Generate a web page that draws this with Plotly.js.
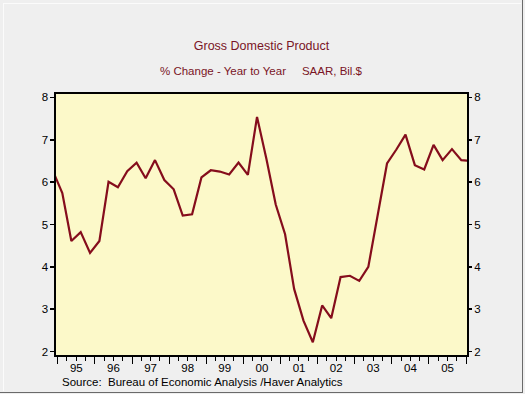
<!DOCTYPE html>
<html>
<head>
<meta charset="utf-8">
<script src="https://cdn.plot.ly/plotly-3.0.1.min.js"></script>
<style>
  html, body { margin: 0; padding: 0; background: #efefef; }
  #wrap { position: relative; width: 525px; height: 394px; }
  #chart { width: 525px; height: 394px; }
  #frame { position: absolute; left: 0; top: 0; width: 523px; height: 393px; box-sizing: border-box;
           border-right: 1px solid #6a6a6a; border-bottom: 1px solid #6a6a6a; pointer-events: none; }
  #frame2 { position: absolute; left: 3px; top: 3px; width: 518px; height: 388px; box-sizing: border-box;
           border-left: 1px solid #fbfbfb; border-top: 1px solid #fbfbfb; pointer-events: none; }
</style>
</head>
<body>
<div id="wrap">
  <div id="chart"></div>
  <div id="frame"></div>
  <div id="frame2"></div>
</div>
<script>
// Quarterly observations (year, quarter)
const quarters = [
  "1994Q4",
  "1995Q1","1995Q2","1995Q3","1995Q4",
  "1996Q1","1996Q2","1996Q3","1996Q4",
  "1997Q1","1997Q2","1997Q3","1997Q4",
  "1998Q1","1998Q2","1998Q3","1998Q4",
  "1999Q1","1999Q2","1999Q3","1999Q4",
  "2000Q1","2000Q2","2000Q3","2000Q4",
  "2001Q1","2001Q2","2001Q3","2001Q4",
  "2002Q1","2002Q2","2002Q3","2002Q4",
  "2003Q1","2003Q2","2003Q3","2003Q4",
  "2004Q1","2004Q2","2004Q3","2004Q4",
  "2005Q1","2005Q2","2005Q3","2005Q4",
  "2006Q1"
];
// GDP % change, year to year (SAAR, Bil.$)
const gdpChange = [
  6.26,
  5.74, 4.61, 4.82, 4.33,
  4.61, 6.01, 5.88, 6.26,
  6.46, 6.09, 6.52, 6.05,
  5.83, 5.21, 5.24, 6.11,
  6.28, 6.25, 6.18, 6.46,
  6.17, 7.54, 6.55, 5.47,
  4.77, 3.48, 2.73, 2.22,
  3.09, 2.79, 3.76, 3.79,
  3.67, 4.00, 5.27, 6.44,
  6.77, 7.12, 6.40, 6.30,
  6.88, 6.52, 6.78, 6.52,
  6.50
];
const yTicks = [2, 3, 4, 5, 6, 7, 8];
const titleText = "Gross Domestic Product";
const subtitleText = "% Change - Year to Year\u00a0\u00a0\u00a0\u00a0\u00a0SAAR, Bil.$";
const sourceText = "Source:\u00a0\u00a0Bureau of Economic Analysis /Haver Analytics";

// mid-quarter dates
const midMonth = {1: "02-15", 2: "05-15", 3: "08-15", 4: "11-15"};
const xDates = quarters.map(q => q.slice(0, 4) + "-" + midMonth[+q.slice(5)]);

const lineColor = "#850d1c";
const font = "Arial, 'Liberation Sans', sans-serif";

const traces = [
  { x: xDates, y: gdpChange, type: "scatter", mode: "lines",
    line: { color: lineColor, width: 2.2 }, hoverinfo: "x+y", showlegend: false },
  { x: xDates, y: gdpChange, type: "scatter", mode: "lines", yaxis: "y2",
    line: { color: "rgba(0,0,0,0)", width: 0 }, hoverinfo: "skip", showlegend: false }
];

const yRange = [1.92, 8.08];
const layout = {
  width: 525, height: 394,
  paper_bgcolor: "#efefef",
  plot_bgcolor: "#fcf9c9",
  margin: { l: 56, r: 58, t: 94, b: 38.5, pad: 0 },
  font: { family: font, size: 11, color: "#000" },
  title: { text: titleText, x: 0.5, xanchor: "center", xref: "paper",
           y: 1 - 46 / 394, yanchor: "middle",
           font: { family: font, size: 12.5, color: "#7a1526" } },
  xaxis: {
    type: "date",
    range: ["1994-12-15", "2006-01-10"],
    tick0: "1995-01-01", dtick: "M12", tickformat: "%y", ticklabelmode: "period",
    ticks: "outside", ticklen: 7, tickwidth: 1, tickcolor: "#000",
    ticklabelstandoff: -5,
    minor: { dtick: "M3", ticks: "outside", ticklen: 4, tickwidth: 1, tickcolor: "#000", showgrid: false },
    showgrid: false, zeroline: false,
    showline: true, mirror: true, linecolor: "#000", linewidth: 1.6,
    tickfont: { family: font, size: 11.5, color: "#000" },
    fixedrange: true
  },
  yaxis: {
    range: yRange, tickvals: yTicks,
    ticks: "outside", ticklen: 4, tickwidth: 1.5, tickcolor: "#000",
    showgrid: false, zeroline: false,
    showline: true, mirror: true, linecolor: "#000", linewidth: 1.6,
    tickfont: { family: font, size: 11.5, color: "#000" },
    fixedrange: true
  },
  yaxis2: {
    overlaying: "y", side: "right", anchor: "x",
    range: yRange, tickvals: yTicks,
    ticks: "outside", ticklen: 4, tickwidth: 1.5, tickcolor: "#000",
    showgrid: false, zeroline: false, showline: false,
    tickfont: { family: font, size: 11.5, color: "#000" },
    fixedrange: true
  },
  annotations: [
    { text: subtitleText, xref: "paper", yref: "paper", x: 0.5, xanchor: "center",
      y: 1 + (94 - 71) / 261.5, yanchor: "middle", showarrow: false,
      font: { family: font, size: 11.5, color: "#7a1526" } },
    { text: sourceText, xref: "paper", yref: "paper", x: (60 - 56) / 411, xanchor: "left",
      y: -(382.5 - 355.5) / 261.5, yanchor: "middle", showarrow: false,
      font: { family: font, size: 11.5, color: "#000" } }
  ]
};

Plotly.newPlot("chart", traces, layout, { displayModeBar: false, staticPlot: true });
</script>
</body>
</html>
